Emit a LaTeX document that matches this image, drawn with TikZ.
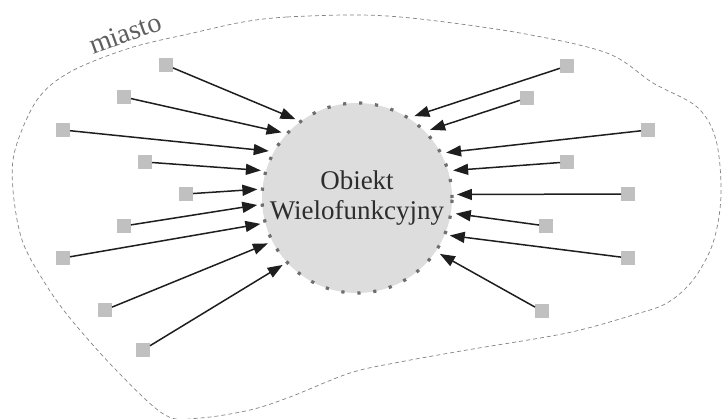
\documentclass[tikz,border=0pt]{standalone}
\usepackage{fontspec}
\setmainfont{Liberation Serif}
\usetikzlibrary{arrows.meta}
\definecolor{sqgray}{RGB}{192,192,192}
\definecolor{cfill}{RGB}{221,221,221}
\definecolor{cdot}{RGB}{110,110,110}
\definecolor{arr}{RGB}{30,30,30}
\definecolor{city}{RGB}{130,130,130}
\definecolor{txt}{RGB}{45,45,45}
\definecolor{citytxt}{RGB}{95,95,95}
\tikzset{
  src/.style={fill=sqgray, draw=none, minimum size=14pt, inner sep=0pt, outer sep=0pt},
  obj/.style={circle, fill=cfill, draw=cdot, line width=3.2pt, dash pattern=on 3.2pt off 12.8pt,
    minimum size=190pt, inner sep=0pt, outer sep=5pt, align=center, text=txt,
    font=\fontsize{27}{30}\selectfont},
  flow/.style={draw=arr, line width=1.5pt, -{Triangle[length=15pt,width=11pt]}},
  cityline/.style={draw=city, line width=0.7pt, dash pattern=on 4pt off 3pt},
  citylabel/.style={text=citytxt, rotate=20, anchor=base west, inner sep=0pt}
}
\begin{document}
\begin{tikzpicture}[x=1pt,y=-1pt]
\useasboundingbox (0,0) rectangle (722,419);
% city boundary
\draw[cityline] plot[smooth cycle, tension=0.55] coordinates {
 (243,22) (287,17) (360,15) (420,19) (520,33) (607,53) (653,83) (697,107) (716,140)
 (721,195) (713,243) (693,280) (667,303) (633,315) (567,333) (467,350) (400,362)
 (350,373) (290,397) (250,410) (200,418) (165,415) (116,370) (69,317) (43,280)
 (22,240) (13,190) (15,150) (37,100) (70,72) (130,48) (193,33)};
\node[citylabel] (miasto) at (93,55) {\fontsize{28}{30}\selectfont miasto};
% object
\node[obj] (o) at (357,198) {Obiekt\\Wielofunkcyjny};
% left sources
\node[src] (l1) at (166,65) {};
\node[src] (l2) at (124,97) {};
\node[src] (l3) at (63,130) {};
\node[src] (l4) at (145,162) {};
\node[src] (l5) at (186,194) {};
\node[src] (l6) at (124,226) {};
\node[src] (l7) at (63,258) {};
\node[src] (l8) at (105,310) {};
\node[src] (l9) at (143,350) {};
% right sources
\node[src] (r1) at (567,66) {};
\node[src] (r2) at (527,98) {};
\node[src] (r3) at (648,130) {};
\node[src] (r4) at (567,162) {};
\node[src] (r5) at (628,194) {};
\node[src] (r6) at (546,226) {};
\node[src] (r7) at (628,258) {};
\node[src] (r8) at (542,311) {};
% arrows
\draw[flow] (l1) -- (o.128.7);
\draw[flow] (l2) -- (o.139.6);
\draw[flow] (l3) -- (o.152.1);
\draw[flow] (l4) -- (o.164.7);
\draw[flow] (l5) -- (o.175.4);
\draw[flow] (l6) -- (o.184.6);
\draw[flow] (l7) -- (o.195.9);
\draw[flow] (l8) -- (o.207.9);
\draw[flow] (l9) -- (o.222.2);
\draw[flow] (r1) -- (o.55.5);
\draw[flow] (r2) -- (o.43.0);
\draw[flow] (r3) -- (o.27.3);
\draw[flow] (r4) -- (o.16.6);
\draw[flow] (r5) -- (o.2.9);
\draw[flow] (r6) -- (o.-9.8);
\draw[flow] (r7) -- (o.-22.5);
\draw[flow] (r8) -- (o.-34.2);
\end{tikzpicture}
\end{document}
